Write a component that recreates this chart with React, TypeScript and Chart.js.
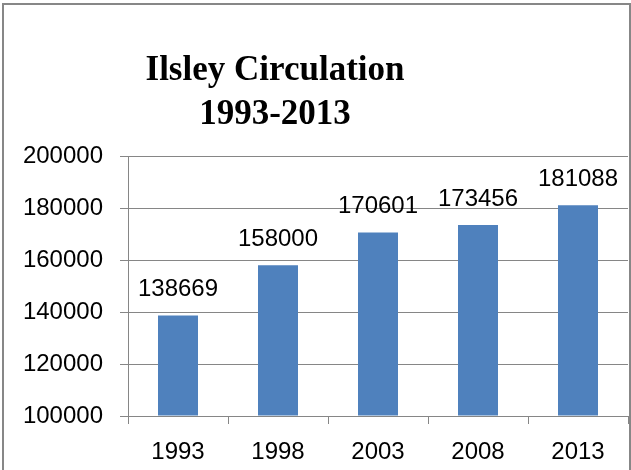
import React, { useEffect, useRef } from "react";
import { Chart, registerables } from "chart.js";

Chart.register(...registerables);

const categories = ["1993", "1998", "2003", "2008", "2013"];
const circulation = [138669, 158000, 170601, 173456, 181088];
const titleLines = ["Ilsley Circulation", "1993-2013"];
const yMin = 100000;
const yMax = 200000;
const yStep = 20000;

const GRID = "#868686";
const SANS = "'Liberation Sans', Arial, sans-serif";
const SERIF = "'Liberation Serif', 'Times New Roman', serif";

export default function App() {
  const ref = useRef<HTMLCanvasElement | null>(null);

  useEffect(() => {
    const canvas = ref.current!;
    const labelPlugin = {
      id: "valueLabels",
      afterDatasetsDraw(chart: any) {
        const ctx = chart.ctx;
        const meta = chart.getDatasetMeta(0);
        ctx.save();
        ctx.font = `24px ${SANS}`;
        ctx.fillStyle = "#000";
        ctx.textAlign = "center";
        ctx.textBaseline = "alphabetic";
        meta.data.forEach((bar: any, i: number) => {
          ctx.fillText(String(chart.data.datasets[0].data[i]), bar.x, bar.y - 19);
        });
        ctx.restore();
      },
    };
    const titlePlugin = {
      id: "customTitle",
      afterDraw(chart: any) {
        const ctx = chart.ctx;
        ctx.save();
        ctx.font = `bold 35px ${SERIF}`;
        ctx.fillStyle = "#000";
        ctx.textAlign = "center";
        ctx.textBaseline = "alphabetic";
        ctx.fillText(titleLines[0], 271, 75);
        ctx.fillText(titleLines[1], 271, 119);
        ctx.restore();
      },
    };

    const chart = new Chart(canvas, {
      type: "bar",
      data: {
        labels: categories,
        datasets: [
          {
            data: circulation,
            backgroundColor: "#4F81BD",
            borderWidth: 0,
            barPercentage: 0.4,
            categoryPercentage: 1.0,
            base: yMin,
          } as any,
        ],
      },
      options: {
        animation: false,
        responsive: false,
        devicePixelRatio: 1,
        layout: { padding: { top: 151, right: 1, left: 0, bottom: 0 } },
        plugins: {
          legend: { display: false },
          title: { display: false },
          tooltip: { enabled: false },
        },
        scales: {
          x: {
            grid: {
              display: true,
              drawOnChartArea: false,
              drawTicks: true,
              tickLength: 8,
              offset: true,
              color: GRID,
              lineWidth: 1,
            },
            border: { display: true, color: GRID, width: 1 },
            ticks: {
              font: { family: SANS, size: 24 },
              color: "#000",
              padding: 14,
              maxRotation: 0,
              autoSkip: false,
            },
            afterFit(scale: any) {
              scale.height = 54;
              scale.paddingLeft = 0;
              scale.paddingRight = 0;
            },
          },
          y: {
            min: yMin,
            max: yMax,
            ticks: {
              stepSize: yStep,
              font: { family: SANS, size: 24 },
              color: "#000",
              padding: 17,
              callback: (v: any) => String(v),
            },
            grid: { color: GRID, lineWidth: 1, tickLength: 8, drawTicks: true },
            border: { display: true, color: GRID, width: 1 },
            afterFit(scale: any) {
              scale.width = 124;
              scale.paddingTop = 0;
              scale.paddingBottom = 0;
            },
          },
        },
      } as any,
      plugins: [labelPlugin, titlePlugin],
    });
    return () => chart.destroy();
  }, []);

  return (
    <div
      style={{
        position: "fixed",
        left: 2,
        top: 3,
        width: 629,
        height: 480,
        boxSizing: "border-box",
        border: "2px solid #878787",
        background: "#fff",
        overflow: "hidden",
      }}
    >
      <canvas ref={ref} width={625} height={465} style={{ display: "block", width: 625, height: 465 }} />
    </div>
  );
}
